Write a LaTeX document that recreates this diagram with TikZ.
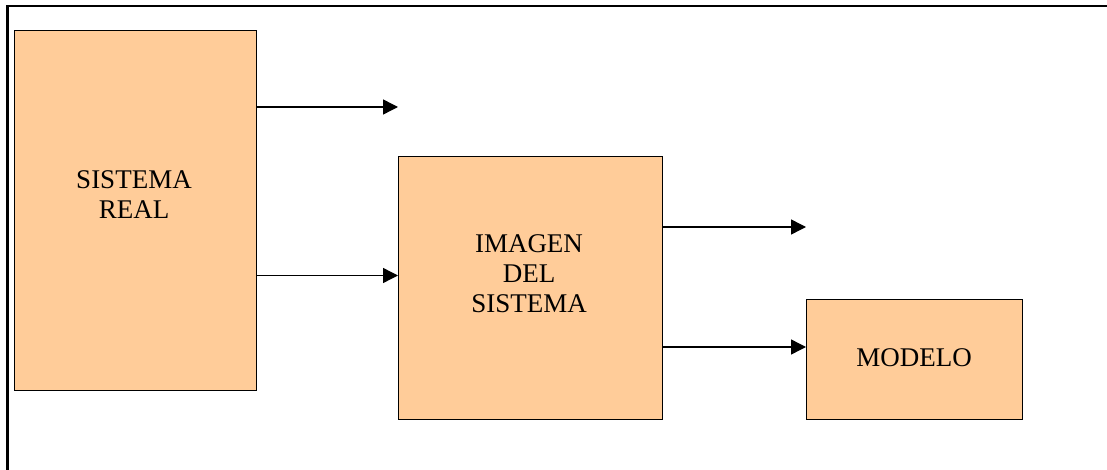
\documentclass[tikz,border=0pt]{standalone}
\usepackage{fontspec}
\setmainfont{Liberation Serif}
\usetikzlibrary{arrows.meta}
\definecolor{boxfill}{RGB}{255,204,153}
\begin{document}
\begin{tikzpicture}[x=1pt,y=-1pt,
  blk/.style={draw=black,line width=1.4pt,fill=boxfill,rectangle,inner sep=0pt,anchor=north west},
  lbl/.style={font=\fontsize{27}{30}\selectfont,align=center,inner sep=0pt,anchor=north},
  arr/.style={line width=1.4pt,-{Triangle[length=15pt,width=15pt]}},
  frame/.style={line width=2.4pt}]
\useasboundingbox (0,0) rectangle (1107,470);
% frame (top and left edges visible)
\coordinate (f1) at (7.5,470);
\coordinate (f2) at (7.5,6);
\coordinate (f3) at (1107,6);
\draw[frame] (f1) -- (f2) -- (f3);
% boxes
\node[blk,minimum width=242pt,minimum height=360pt] (real) at (13.5,30) {};
\node[blk,minimum width=264pt,minimum height=263pt] (imagen) at (398,156) {};
\node[blk,minimum width=216pt,minimum height=120pt] (modelo) at (806,299) {};
% labels
\node[lbl] (treal) at (134,170) {SISTEMA\\REAL};
\node[lbl] (timagen) at (529,234.5) {IMAGEN\\DEL\\SISTEMA};
\node[lbl] (tmodelo) at (914,348) {MODELO};
% connectors
\coordinate (o1) at (398,107);
\coordinate (o2) at (806,227);
\draw[arr] (real.east |- 0,107) -- (o1);
\draw[arr] (real.east |- 0,275.5) -- (imagen.west |- 0,275.5);
\draw[arr] (imagen.east |- 0,227) -- (o2);
\draw[arr] (imagen.east |- 0,347) -- (modelo.west |- 0,347);
\end{tikzpicture}
\end{document}
